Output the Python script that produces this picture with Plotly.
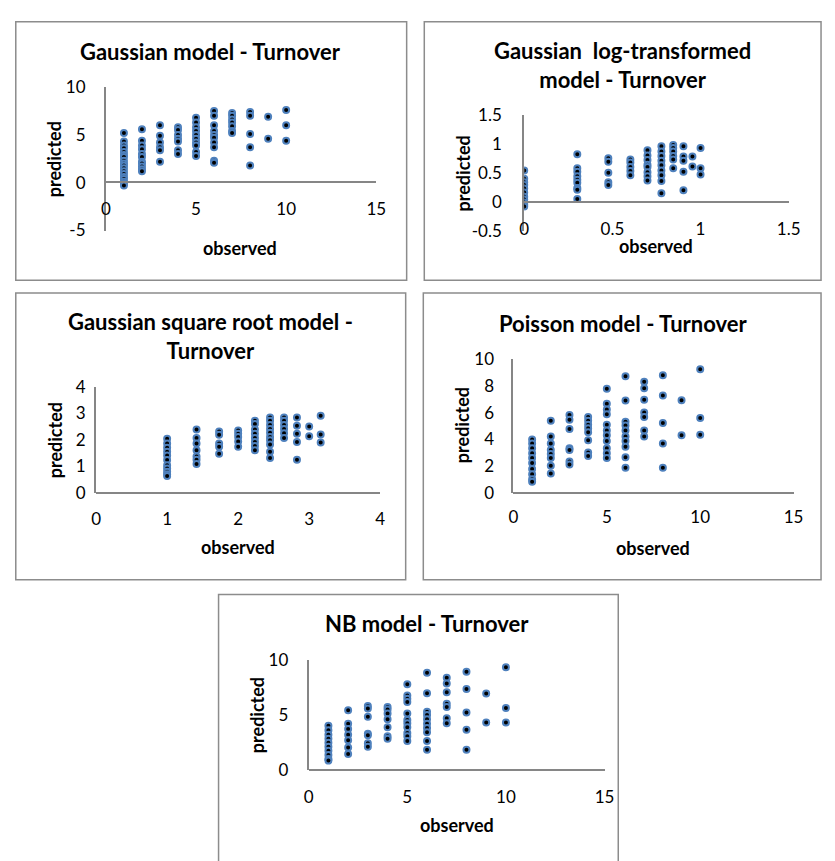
import plotly.graph_objects as go

W, H = 835, 861

# ---------------- data ----------------
GAUSS_OBSERVED = [1, 2, 3, 4, 5, 6, 7, 8, 9, 10]
GAUSS_PREDICTED = [
    [5.2, 4.3, 3.9, 3.6, 3.2, 2.9, 2.7, 2.3, 2.0, 1.8, 1.5, 1.2, 0.9, 0.6, 0.4, 0.1, -0.1, -0.3],
    [5.6, 4.4, 3.9, 3.5, 3.0, 2.7, 2.2, 2.0, 1.7, 1.4, 1.2],
    [6.0, 4.9, 4.2, 3.7, 3.4, 2.2],
    [5.8, 5.5, 5.0, 4.6, 4.3, 3.4, 3.0],
    [6.8, 6.3, 5.8, 5.4, 5.0, 4.6, 4.2, 3.9, 3.2, 2.8],
    [7.5, 7.0, 6.0, 5.4, 5.0, 4.7, 4.2, 3.7, 2.3, 2.1],
    [7.3, 7.0, 6.6, 6.3, 5.9, 5.4, 5.2],
    [7.4, 7.0, 5.1, 3.7, 1.8],
    [6.9, 4.6],
    [7.6, 6.0, 4.4],
]

LOG_OBSERVED = [0, 0.301, 0.477, 0.602, 0.699, 0.778, 0.845, 0.903, 0.954, 1.0]
LOG_PREDICTED = [
    [0.55, 0.41, 0.35, 0.30, 0.24, 0.17, 0.10, 0.05, 0.0, -0.04, -0.07],
    [0.83, 0.59, 0.53, 0.45, 0.39, 0.34, 0.25, 0.22, 0.06],
    [0.76, 0.70, 0.51, 0.35, 0.30],
    [0.74, 0.69, 0.61, 0.54, 0.47],
    [0.90, 0.81, 0.73, 0.65, 0.61, 0.52, 0.45, 0.38],
    [0.97, 0.88, 0.80, 0.72, 0.64, 0.55, 0.47, 0.37, 0.16],
    [0.99, 0.94, 0.88, 0.80, 0.74, 0.59],
    [0.97, 0.79, 0.72, 0.53, 0.21],
    [0.79, 0.62],
    [0.94, 0.59, 0.48],
]

SQRT_OBSERVED = [1.0, 1.414, 1.732, 2.0, 2.236, 2.449, 2.646, 2.828, 3.0, 3.162]
SQRT_PREDICTED = [
    [2.04, 1.86, 1.70, 1.55, 1.41, 1.24, 1.04, 0.92, 0.80, 0.70, 0.64],
    [2.39, 2.07, 1.86, 1.61, 1.37, 1.25, 1.09],
    [2.31, 2.19, 1.86, 1.74, 1.47],
    [2.35, 2.23, 2.10, 1.94, 1.74],
    [2.72, 2.59, 2.39, 2.23, 2.07, 1.92, 1.77, 1.61],
    [2.84, 2.72, 2.56, 2.41, 2.26, 2.10, 1.98, 1.82, 1.55, 1.31],
    [2.84, 2.72, 2.56, 2.41, 2.25, 2.07],
    [2.84, 2.53, 2.23, 1.92, 1.25],
    [2.50, 2.13],
    [2.90, 2.20, 1.90],
]

POIS_OBSERVED = [1, 2, 3, 4, 5, 6, 7, 8, 9, 10]
POIS_PREDICTED = [
    [3.99, 3.70, 3.34, 2.97, 2.61, 2.24, 1.80, 1.39, 1.02, 0.83],
    [5.40, 4.23, 3.70, 3.21, 2.92, 2.61, 2.04, 1.46],
    [5.84, 5.47, 4.79, 3.34, 3.21, 2.36, 2.12],
    [5.69, 5.40, 5.11, 4.84, 4.55, 3.94, 3.02, 2.77],
    [7.79, 6.67, 6.25, 5.89, 5.11, 4.67, 4.31, 3.89, 3.34, 2.97, 2.61],
    [8.74, 6.91, 5.33, 5.04, 4.67, 4.23, 3.89, 3.45, 2.68, 1.88],
    [8.32, 7.83, 6.98, 6.01, 5.69, 4.67, 4.23],
    [8.81, 7.30, 5.23, 3.70, 1.88],
    [6.93, 4.31],
    [9.25, 5.60, 4.36],
]

NB_OBSERVED = [1, 2, 3, 4, 5, 6, 7, 8, 9, 10]
NB_PREDICTED = [
    [4.01, 3.60, 3.21, 2.83, 2.48, 2.12, 1.74, 1.36, 1.00, 0.86],
    [5.43, 4.19, 3.72, 3.21, 2.71, 2.04, 1.45],
    [5.81, 5.57, 4.84, 3.30, 3.16, 2.42, 2.12],
    [5.72, 5.49, 5.13, 4.60, 3.89, 3.07, 2.83],
    [7.79, 6.75, 6.46, 6.16, 5.13, 4.54, 4.25, 3.89, 3.36, 3.07, 2.63],
    [8.82, 6.96, 5.28, 4.98, 4.60, 4.19, 3.81, 3.42, 2.63, 1.83],
    [8.38, 7.85, 7.05, 6.02, 5.72, 4.69, 4.25],
    [8.91, 7.35, 5.22, 3.66, 1.83],
    [6.93, 4.31],
    [9.32, 5.63, 4.31],
]

TITLES = [
    "Gaussian model - Turnover",
    "Gaussian\u00a0 log-transformed<br>model - Turnover",
    "Gaussian square root model -<br>Turnover",
    "Poisson model - Turnover",
    "NB model - Turnover",
]
X_AXIS_TITLE = "observed"
Y_AXIS_TITLE = "predicted"

X_TICKS = [
    [0, 5, 10, 15],
    [0, 0.5, 1, 1.5],
    [0, 1, 2, 3, 4],
    [0, 5, 10, 15],
    [0, 5, 10, 15],
]
X_TICK_LABELS = [
    ["0", "5", "10", "15"],
    ["0", "0.5", "1", "1.5"],
    ["0", "1", "2", "3", "4"],
    ["0", "5", "10", "15"],
    ["0", "5", "10", "15"],
]
Y_TICKS = [
    [-5, 0, 5, 10],
    [-0.5, 0, 0.5, 1, 1.5],
    [0, 1, 2, 3, 4],
    [0, 2, 4, 6, 8, 10],
    [0, 5, 10],
]
Y_TICK_LABELS = [
    ["-5", "0", "5", "10"],
    ["-0.5", "0", "0.5", "1", "1.5"],
    ["0", "1", "2", "3", "4"],
    ["0", "2", "4", "6", "8", "10"],
    ["0", "5", "10"],
]

SERIES = [
    (GAUSS_OBSERVED, GAUSS_PREDICTED),
    (LOG_OBSERVED, LOG_PREDICTED),
    (SQRT_OBSERVED, SQRT_PREDICTED),
    (POIS_OBSERVED, POIS_PREDICTED),
    (NB_OBSERVED, NB_PREDICTED),
]

# ---------------- layout geometry (page pixels) ----------------
GEOM = [
    dict(x0=103, x1=379, yt=78, yb=225, xline=175, xr=[0, 15], yr=[-5, 10], ylen=15, xlen=12),
    dict(x0=530, x1=800, yt=107, yb=226, xline=196, xr=[0, 1.5], yr=[-0.5, 1.5], ylen=17, xlen=11),
    dict(x0=93, x1=383, yt=385, yb=494, xline=494, xr=[0, 4], yr=[0, 4], ylen=5, xlen=11),
    dict(x0=519, x1=805, yt=357, yb=494, xline=494, xr=[0, 15], yr=[0, 10], ylen=14, xlen=9),
    dict(x0=310, x1=612, yt=665, yb=778, xline=778, xr=[0, 15], yr=[0, 10], ylen=15, xlen=12),
]
BOXES = [(11, 11, 410, 276), (428, 11, 833, 276), (11, 289, 409, 583),
         (427, 289, 833, 583), (218, 598, 626, 880)]
TITLE_POS = [(210, 41), (630, 55), (210, 333), (631, 320), (431, 628)]
YTITLE_POS = [(50, 152), (467, 166), (51, 440), (466, 425), (258, 722)]
XTITLE_POS = [(240, 243), (665, 241), (238, 549), (661, 550), (461, 834)]

FONT = "Lato, 'Open Sans', sans-serif"
AXIS_GRAY = "#868686"


def fx(px):
    return px / W


def fy(py):
    return 1 - py / H


fig = go.Figure()
layout = dict(
    width=W, height=H, margin=dict(l=0, r=0, t=0, b=0, pad=0),
    paper_bgcolor="white", plot_bgcolor="white", showlegend=False,
    font=dict(family=FONT, size=17, color="black"),
)
shapes, annotations = [], []

for i, ((obs, pred), g) in enumerate(zip(SERIES, GEOM)):
    n = "" if i == 0 else str(i + 1)
    xs, ys = [], []
    for o, col in zip(obs, pred):
        for v in col:
            xs.append(o)
            ys.append(v)
    fig.add_trace(go.Scatter(
        x=xs, y=ys, mode="markers", xaxis="x" + n, yaxis="y" + n,
        marker=dict(size=6, color="black", line=dict(width=2, color="#4F81BD")),
        hoverinfo="x+y",
    ))
    layout["xaxis" + n] = dict(
        domain=[fx(g["x0"]), fx(g["x1"])], range=g["xr"], anchor="free",
        position=fy(g["xline"]), showgrid=False, zeroline=False,
        showline=True, linecolor=AXIS_GRAY, linewidth=2,
        tickmode="array", tickvals=X_TICKS[i], ticktext=X_TICK_LABELS[i],
        ticks="outside", ticklen=g["xlen"], tickcolor="rgba(0,0,0,0)",
        tickfont=dict(family=FONT, size=17, color="black"),
    )
    layout["yaxis" + n] = dict(
        domain=[fy(g["yb"]), fy(g["yt"])], range=g["yr"], anchor="x" + n,
        showgrid=False, zeroline=False,
        showline=True, linecolor=AXIS_GRAY, linewidth=2,
        tickmode="array", tickvals=Y_TICKS[i], ticktext=Y_TICK_LABELS[i],
        ticks="outside", ticklen=g["ylen"], tickcolor="rgba(0,0,0,0)",
        tickfont=dict(family=FONT, size=17, color="black"),
    )
    bx0, by0, bx1, by1 = BOXES[i]
    shapes.append(dict(type="rect", xref="paper", yref="paper",
                       x0=fx(bx0), x1=fx(bx1), y0=fy(by1), y1=fy(by0),
                       line=dict(color="#8c8c8c", width=1.5), layer="below"))
    tx, ty = TITLE_POS[i]
    annotations.append(dict(text="<b>" + TITLES[i].replace("<br>", "</b><br><b>") + "</b>",
                            x=fx(tx), y=fy(ty), xref="paper", yref="paper",
                            xanchor="center", yanchor="middle", showarrow=False,
                            font=dict(family=FONT, size=22, color="black")))
    px_, py_ = YTITLE_POS[i]
    annotations.append(dict(text="<b>" + Y_AXIS_TITLE + "</b>", x=fx(px_), y=fy(py_),
                            xref="paper", yref="paper", textangle=-90,
                            xanchor="center", yanchor="middle", showarrow=False,
                            font=dict(family=FONT, size=18, color="black")))
    ox, oy = XTITLE_POS[i]
    annotations.append(dict(text="<b>" + X_AXIS_TITLE + "</b>", x=fx(ox), y=fy(oy),
                            xref="paper", yref="paper",
                            xanchor="center", yanchor="middle", showarrow=False,
                            font=dict(family=FONT, size=18, color="black")))

layout["shapes"] = shapes
layout["annotations"] = annotations
fig.update_layout(**layout)

fig.write_html("out.html", config={"displayModeBar": False},
               post_script="document.body.style.margin='0';")
